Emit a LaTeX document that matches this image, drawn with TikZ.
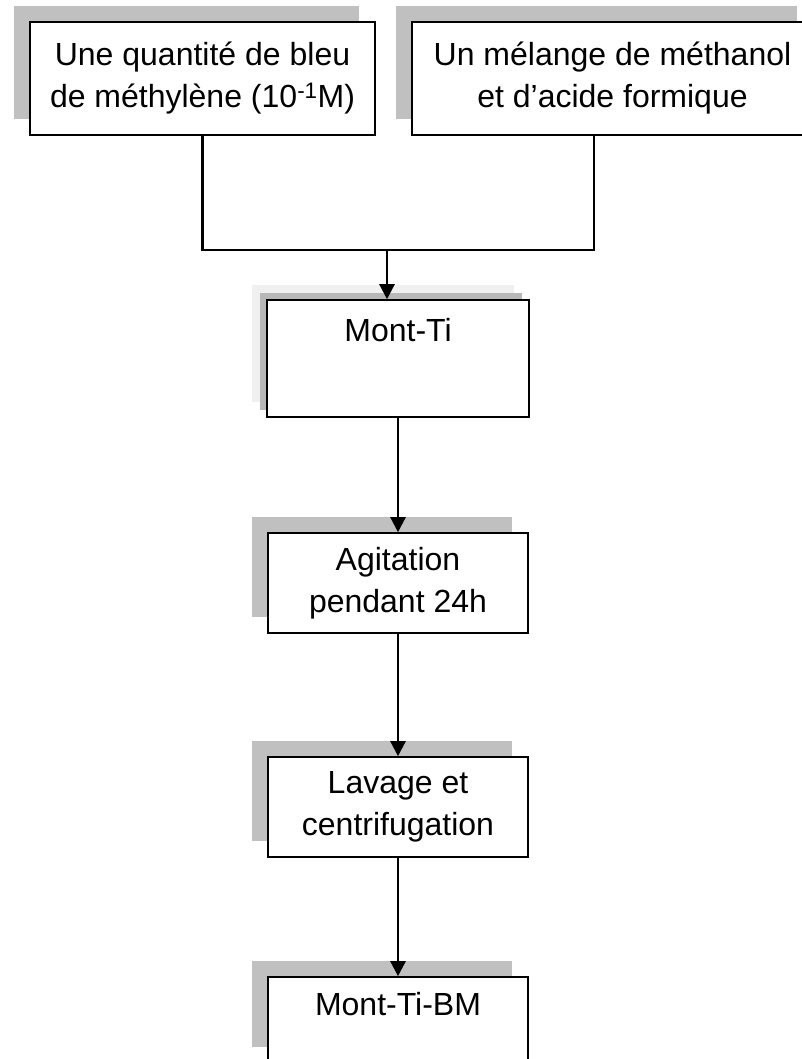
\documentclass[tikz,border=0pt]{standalone}
\usepackage{fontspec}
\setmainfont{Liberation Sans}
\usetikzlibrary{positioning}
\usetikzlibrary{calc}
\usetikzlibrary{shadows}
\usetikzlibrary{arrows.meta}
\definecolor{shadowgray}{HTML}{C0C0C0}
\definecolor{paleshadow}{HTML}{F0F0F0}
\definecolor{midshadow}{HTML}{B8B8B8}
\tikzset{stepbox/.style={draw,line width=1.6pt,fill=white,inner sep=0pt,align=center,font=\fontsize{32}{42}\selectfont},
boxshadow/.style={general shadow={fill=shadowgray,shadow xshift=-16pt,shadow yshift=16pt}},
flow/.style={line width=2.4pt,-{Triangle[width=15pt,length=15pt]}},
link/.style={line width=2.4pt}}

\begin{document}
\begin{tikzpicture}[x=1pt,y=-1pt]
\useasboundingbox (0,0) rectangle (802,1059);
\clip (0,0) rectangle (802,1059);
\node (bleu) at (202.5,78.5) [stepbox,boxshadow,minimum width=345pt,minimum height=113pt] {Une quantité de bleu\\de méthylène (10\textsuperscript{-1}M)};
\node (melange) at (612.5,78.5) [stepbox,boxshadow,minimum width=401pt,minimum height=113pt] {Un mélange de méthanol\\et d’acide formique};
\node (mont) at (398,358.5) [stepbox,minimum width=262pt,minimum height=117pt,text height=24pt,text depth=59pt,
  general shadow={fill=paleshadow,shadow xshift=-15pt,shadow yshift=15pt},
  general shadow={fill=midshadow,shadow xshift=-7pt,shadow yshift=7pt}] {Mont-Ti};
\node (agit) at (398,583) [stepbox,boxshadow,minimum width=260pt,minimum height=100pt] {Agitation\\pendant 24h};
\node (lavage) at (398,807) [stepbox,boxshadow,minimum width=260pt,minimum height=100pt] {Lavage et\\centrifugation};
\node (montbm) at (398,1020) [stepbox,boxshadow,minimum width=260pt,minimum height=86pt,text height=24pt,text depth=34pt] {Mont-Ti-BM};

\coordinate (jr) at (594,250);
\coordinate (jm) at (387,250);
\draw[link] (bleu.south) |- (jr) -- (jr |- melange.south);
\draw[flow] (jm) -- (jm |- mont.north);
\draw[flow] (mont.south) -- (agit.north);
\draw[flow] (agit.south) -- (lavage.north);
\draw[flow] (lavage.south) -- (montbm.north);
\end{tikzpicture}
\end{document}
